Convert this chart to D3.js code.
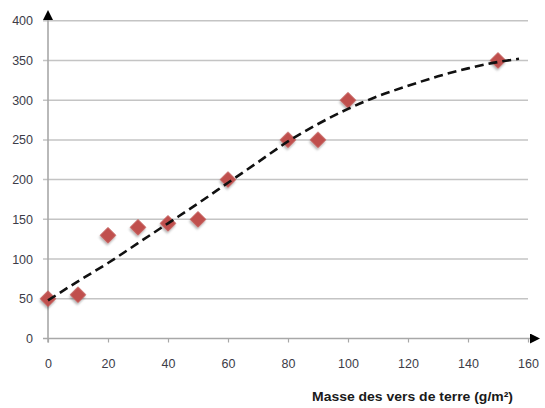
<!DOCTYPE html>
<html>
<head>
<meta charset="utf-8">
<script src="https://cdn.jsdelivr.net/npm/d3@7/dist/d3.min.js"></script>
<style>
  html, body { margin: 0; padding: 0; background: #ffffff; }
  svg { display: block; }
</style>
</head>
<body>
<div id="chart"></div>
<script>
// ---- data ----
const massX = [0, 10, 20, 30, 40, 50, 60, 80, 90, 100, 150];
const valuesY = [50, 55, 130, 140, 145, 150, 200, 250, 250, 300, 350];
// trend curve
const trendX = [0, 10, 20, 30, 40, 50, 60, 70, 80, 90, 100, 110, 120, 130, 140, 150, 157];
const trendY = [48, 72, 95, 120, 145, 170, 196, 222, 248, 270, 289, 305, 318, 330, 340, 348, 352];
const xTicks = [0, 20, 40, 60, 80, 100, 120, 140, 160];
const yTicks = [0, 50, 100, 150, 200, 250, 300, 350, 400];
const xTitle = "Masse des vers de terre (g/m²)";

const W = 545, H = 408;
const svg = d3.select("#chart").append("svg").attr("width", W).attr("height", H);

const x = d3.scaleLinear().domain([0, 160]).range([48, 528]);
const y = d3.scaleLinear().domain([0, 400]).range([338.5, 20.7]);

const defs = svg.append("defs");
const f = defs.append("filter").attr("id", "sh").attr("x", "-50%").attr("y", "-50%").attr("width", "200%").attr("height", "200%");
f.append("feDropShadow").attr("dx", 1).attr("dy", 2).attr("stdDeviation", 1.2)
  .attr("flood-color", "#000").attr("flood-opacity", 0.3);
defs.append("marker").attr("id", "arr").attr("viewBox", "0 0 10 10")
  .attr("refX", 1).attr("refY", 5).attr("markerWidth", 10).attr("markerHeight", 10)
  .attr("markerUnits", "userSpaceOnUse").attr("orient", "auto")
  .append("path").attr("d", "M0,0 L10,5 L0,10 Z").attr("fill", "#000");

// gridlines
svg.append("g").selectAll("line").data(yTicks.filter(d => d > 0)).join("line")
  .attr("x1", 43).attr("x2", x(160))
  .attr("y1", d => y(d)).attr("y2", d => y(d))
  .attr("stroke", "#c4c4c4").attr("stroke-width", 1.5);

// y axis labels
const yAxis = svg.append("g").attr("transform", `translate(${x(0)},0)`)
  .call(d3.axisLeft(y).tickValues(yTicks).tickSize(0).tickPadding(15));
yAxis.select(".domain").remove();
yAxis.selectAll("text").attr("font-family", "Liberation Sans, Arial, sans-serif")
  .attr("font-size", 12.5).attr("fill", "#3c3c48");

// x axis labels
const xAxis = svg.append("g").attr("transform", `translate(0,${y(0)})`)
  .call(d3.axisBottom(x).tickValues(xTicks).tickSize(4).tickPadding(17));
xAxis.select(".domain").remove();
xAxis.selectAll("line").attr("stroke", "#a8a8a8").attr("stroke-width", 1.2);
xAxis.selectAll("text").attr("font-family", "Liberation Sans, Arial, sans-serif")
  .attr("font-size", 12.5).attr("fill", "#3c3c48");

// axis lines with arrows
svg.append("line").attr("x1", 43).attr("x2", 531).attr("y1", y(0)).attr("y2", y(0))
  .attr("stroke", "#a8a8a8").attr("stroke-width", 1.6).attr("marker-end", "url(#arr)");
svg.append("line").attr("x1", x(0)).attr("x2", x(0)).attr("y1", y(0) + 4).attr("y2", 19)
  .attr("stroke", "#a8a8a8").attr("stroke-width", 1.6).attr("marker-end", "url(#arr)");

const trend = trendX.map((d, i) => [d, trendY[i]]);
const lineGen = d3.line().x(d => x(d[0])).y(d => y(d[1])).curve(d3.curveMonotoneX);

// points (diamonds)
const pts = massX.map((d, i) => [d, valuesY[i]]);
svg.append("g").selectAll("path").data(pts).join("path")
  .attr("d", d3.symbol(d3.symbolSquare, 135))
  .attr("transform", d => `translate(${x(d[0])},${y(d[1])}) rotate(45)`)
  .attr("fill", "#c0504d").attr("filter", "url(#sh)");

// trend dashed line (drawn over markers)
svg.append("path").datum(trend)
  .attr("d", lineGen)
  .attr("fill", "none").attr("stroke", "#111").attr("stroke-width", 2.6)
  .attr("stroke-dasharray", "9,5");

// x title
svg.append("text").attr("x", 513).attr("y", 401).attr("text-anchor", "end")
  .attr("font-family", "Liberation Sans, Arial, sans-serif").attr("font-weight", "bold")
  .attr("font-size", 13.5).attr("textLength", 201).attr("lengthAdjust", "spacingAndGlyphs")
  .attr("fill", "#1a1a1a").text(xTitle);
</script>
</body>
</html>
